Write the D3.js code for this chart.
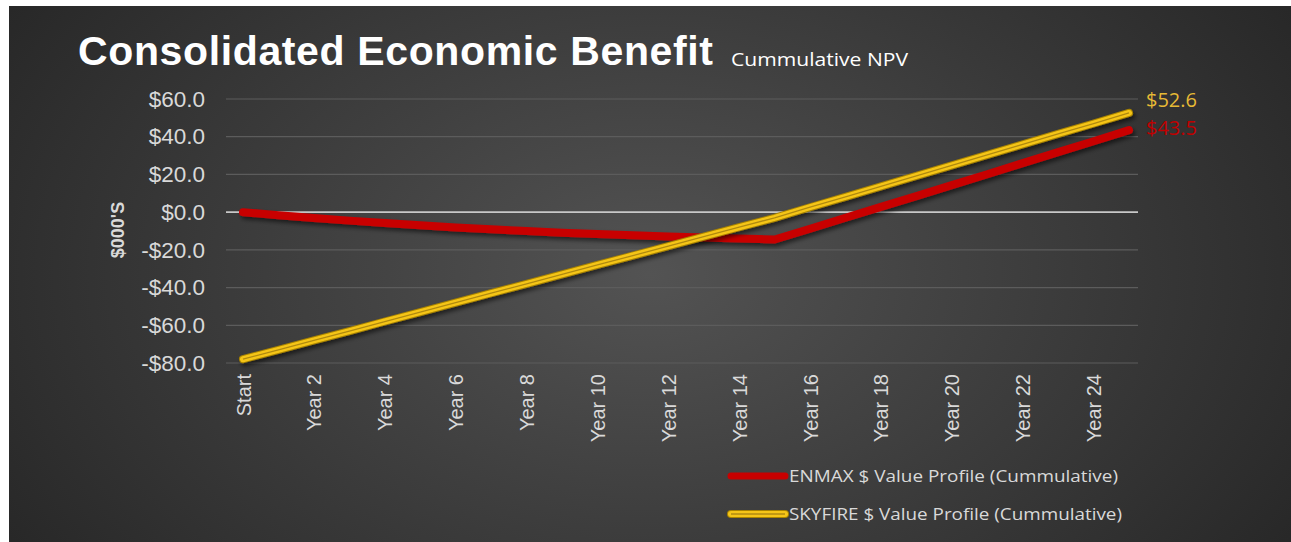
<!DOCTYPE html>
<html>
<head>
<meta charset="utf-8">
<script src="https://cdn.jsdelivr.net/npm/d3@7"></script>
<style>
  html, body { margin: 0; padding: 0; background: #ffffff; }
  svg { display: block; }
</style>
</head>
<body>
<script>
const width = 1291;
const height = 542;

// categories: Start, Year 1 .. Year 25
const periods = ['Start'].concat(d3.range(1, 26).map(i => 'Year ' + i));
const yTicks = [-80, -60, -40, -20, 0, 20, 40, 60];

// values ($000's)
const enmax = [0, -1.6, -3.1, -4.5, -5.8, -7.0, -8.1, -9.1, -10.0, -10.9, -11.6, -12.3, -12.9, -13.5, -14.0, -14.5,
  -8.8, -3.0, 2.8, 8.5, 14.3, 20.1, 26.0, 31.8, 37.6, 43.5];
const skyfire = [-78.0, -73.0, -68.0, -63.1, -58.0, -53.0, -48.0, -43.0, -38.0, -33.0, -28.0, -23.0, -18.0, -13.0, -8.0, -3.0,
  2.6, 8.1, 13.7, 19.2, 24.8, 30.4, 35.9, 41.5, 47.0, 52.6];

const seriesNames = ['ENMAX $ Value Profile (Cummulative)', 'SKYFIRE $ Value Profile (Cummulative)'];

const svg = d3.select('body').append('svg')
  .attr('width', width)
  .attr('height', height);

const defs = svg.append('defs');
const grad = defs.append('radialGradient')
  .attr('id', 'bg')
  .attr('cx', '50%').attr('cy', '50%')
  .attr('r', '60%')
  .attr('gradientTransform', 'translate(0.5 0.5) scale(1 1.6) translate(-0.5 -0.5)');
grad.append('stop').attr('offset', '0%').attr('stop-color', '#535353');
grad.append('stop').attr('offset', '100%').attr('stop-color', '#272727');

const shadow = defs.append('filter').attr('id', 'shadow')
  .attr('x', '-5%').attr('y', '-20%').attr('width', '110%').attr('height', '140%');
shadow.append('feDropShadow')
  .attr('dx', 2).attr('dy', 3).attr('stdDeviation', 2)
  .attr('flood-color', '#000').attr('flood-opacity', 0.55);

// background panel
svg.append('rect')
  .attr('x', 9).attr('y', 6)
  .attr('width', width - 9).attr('height', height - 6)
  .attr('fill', 'url(#bg)');

// scales
const x = d3.scalePoint().domain(periods).range([243, 1129]);
const y = d3.scaleLinear().domain([-80, 60]).range([363, 99]);
const gridX0 = 226, gridX1 = 1138;

// gridlines
svg.append('g')
  .selectAll('line')
  .data(yTicks)
  .join('line')
  .attr('x1', gridX0).attr('x2', gridX1)
  .attr('y1', d => y(d)).attr('y2', d => y(d))
  .attr('stroke', d => d === 0 ? '#c8c8c8' : '#5c5c5c')
  .attr('stroke-width', d => d === 0 ? 1.6 : 1.2);

// y axis
const fmt = d => (d < 0 ? '-' : '') + '$' + Math.abs(d).toFixed(1);
const gy = svg.append('g')
  .attr('transform', 'translate(205,0)')
  .call(d3.axisLeft(y).tickValues(yTicks).tickFormat(fmt).tickSize(0).tickPadding(0));
gy.select('.domain').remove();
gy.selectAll('.tick text')
  .attr('fill', '#d9d9d9')
  .style('font-family', '"Liberation Sans", Arial, sans-serif')
  .style('font-size', '22.5px');

svg.append('text')
  .attr('transform', 'translate(118,230) rotate(-90)')
  .attr('text-anchor', 'middle')
  .attr('dominant-baseline', 'central')
  .attr('fill', '#d9d9d9')
  .style('font-family', '"Liberation Sans", Arial, sans-serif')
  .style('font-weight', 'bold')
  .style('font-size', '18px')
  .text("$000'S");

// x axis
const gx = svg.append('g')
  .attr('transform', `translate(0,${y(-80)})`)
  .call(d3.axisBottom(x).tickValues(periods.filter((d, i) => i % 2 === 0)).tickSize(0));
gx.select('.domain').remove();
gx.selectAll('.tick text')
  .attr('transform', 'rotate(-90)')
  .attr('x', -11)
  .attr('y', 0)
  .attr('dy', '0.35em')
  .attr('text-anchor', 'end')
  .attr('fill', '#d9d9d9')
  .style('font-family', '"Liberation Sans", Arial, sans-serif')
  .style('font-size', '20px');

// lines
const line = d3.line()
  .x((d, i) => x(periods[i]))
  .y(d => y(d));

svg.append('path')
  .datum(enmax)
  .attr('d', line)
  .attr('fill', 'none')
  .attr('stroke', '#c80000')
  .attr('stroke-width', 8)
  .attr('stroke-linecap', 'round')
  .attr('stroke-linejoin', 'round')
  .attr('filter', 'url(#shadow)');

const sky = svg.append('g').attr('filter', 'url(#shadow)');
sky.append('path')
  .datum(skyfire)
  .attr('d', line)
  .attr('fill', 'none')
  .attr('stroke', '#a98400')
  .attr('stroke-width', 8)
  .attr('stroke-linecap', 'round');
sky.append('path')
  .datum(skyfire)
  .attr('d', line)
  .attr('fill', 'none')
  .attr('stroke', '#f5c518')
  .attr('stroke-width', 6)
  .attr('stroke-linecap', 'round');
sky.append('path')
  .datum(skyfire)
  .attr('d', line)
  .attr('fill', 'none')
  .attr('stroke', '#b08a10')
  .attr('stroke-width', 1.3);

// end labels
const last = periods.length - 1;
svg.append('text')
  .attr('x', x(periods[last]) + 17)
  .attr('y', 107)
  .attr('fill', '#e6b935')
  .style('font-family', '"Open Sans", "Noto Sans", sans-serif')
  .style('font-size', '20px')
  .text('$' + skyfire[last].toFixed(1));
svg.append('text')
  .attr('x', x(periods[last]) + 17)
  .attr('y', 135)
  .attr('fill', '#c00000')
  .style('font-family', '"Open Sans", "Noto Sans", sans-serif')
  .style('font-size', '20px')
  .text('$' + enmax[last].toFixed(1));

// title
svg.append('text')
  .attr('x', 78).attr('y', 65)
  .attr('fill', '#ffffff')
  .attr('textLength', 635)
  .attr('lengthAdjust', 'spacing')
  .style('font-family', '"Liberation Sans", Arial, sans-serif')
  .style('font-weight', 'bold')
  .style('font-size', '41px')
  .text('Consolidated Economic Benefit');
svg.append('text')
  .attr('x', 731).attr('y', 66)
  .attr('fill', '#ffffff')
  .attr('textLength', 177)
  .attr('lengthAdjust', 'spacingAndGlyphs')
  .style('font-family', '"Open Sans", "Noto Sans", sans-serif')
  .style('font-size', '18px')
  .text('Cummulative NPV');

// legend
const legend = svg.append('g');
const legY = [476, 514];
legend.append('line')
  .attr('x1', 731).attr('x2', 785).attr('y1', legY[0]).attr('y2', legY[0])
  .attr('stroke', '#c80000').attr('stroke-width', 7).attr('stroke-linecap', 'round');
legend.append('line')
  .attr('x1', 731).attr('x2', 785).attr('y1', legY[1]).attr('y2', legY[1])
  .attr('stroke', '#a98400').attr('stroke-width', 8).attr('stroke-linecap', 'round');
legend.append('line')
  .attr('x1', 731).attr('x2', 785).attr('y1', legY[1]).attr('y2', legY[1])
  .attr('stroke', '#f5c518').attr('stroke-width', 6).attr('stroke-linecap', 'round');
legend.append('line')
  .attr('x1', 731).attr('x2', 785).attr('y1', legY[1]).attr('y2', legY[1])
  .attr('stroke', '#b08a10').attr('stroke-width', 1.3);
legend.selectAll('text')
  .data(seriesNames)
  .join('text')
  .attr('x', 789)
  .attr('y', (d, i) => legY[i] + 6)
  .attr('fill', '#d9d9d9')
  .attr('textLength', (d, i) => i === 0 ? 329 : 333)
  .attr('lengthAdjust', 'spacingAndGlyphs')
  .style('font-family', '"Open Sans", "Noto Sans", sans-serif')
  .style('font-size', '17px')
  .text(d => d);
</script>
</body>
</html>
